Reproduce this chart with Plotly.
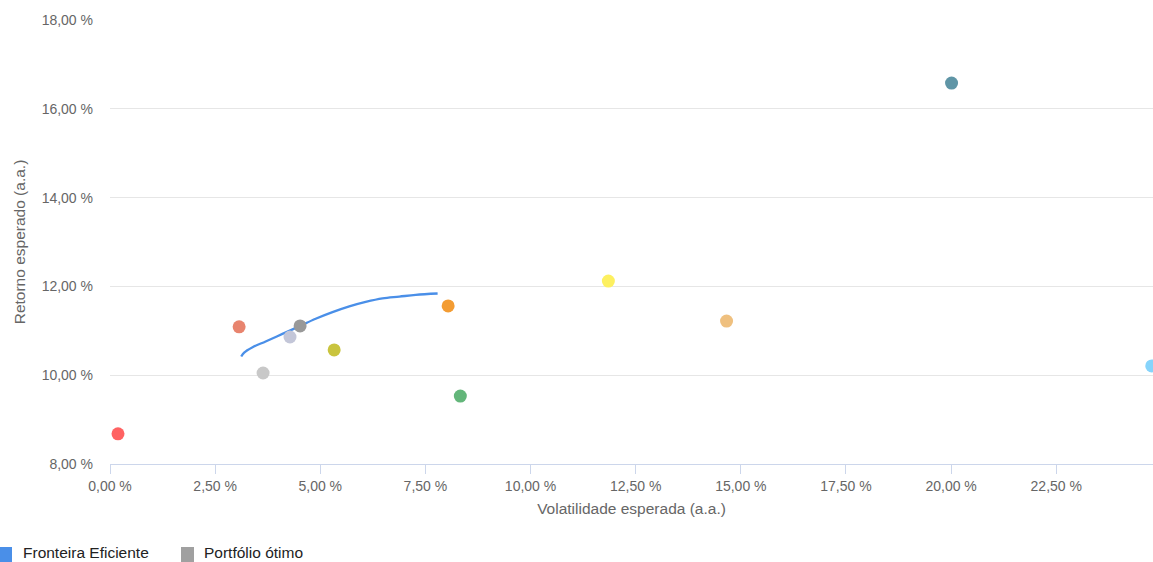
import plotly.graph_objects as go

# Asset points (volatility %, return %)
asset_vol = [0.19, 3.07, 3.64, 4.28, 5.33, 8.04, 8.33, 11.85, 14.66, 20.01, 24.77]
asset_ret = [8.68, 11.09, 10.05, 10.86, 10.57, 11.56, 9.53, 12.12, 11.22, 16.58, 10.21]
asset_colors = ["#ff6262", "#e8846e", "#c8c8c8", "#c3c6d8", "#c9c43e", "#f39c33",
                "#63b67a", "#fdf060", "#efc07f", "#5f95a6", "#86d4fb"]

# Efficient frontier
front_vol = [3.12, 3.19, 3.39, 3.70, 4.10, 4.50, 4.89, 5.29, 5.69, 6.08, 6.48, 6.88, 7.27, 7.79]
front_ret = [10.42, 10.51, 10.63, 10.76, 10.93, 11.10, 11.27, 11.42, 11.55, 11.65, 11.73, 11.77, 11.81, 11.84]

# Optimal portfolio
opt_vol = [4.52]
opt_ret = [11.11]

x_ticks = [0, 2.5, 5, 7.5, 10, 12.5, 15, 17.5, 20, 22.5]
x_ticktext = ["0,00 %", "2,50 %", "5,00 %", "7,50 %", "10,00 %", "12,50 %",
              "15,00 %", "17,50 %", "20,00 %", "22,50 %"]
y_ticks = [8, 10, 12, 14, 16, 18]
y_ticktext = ["8,00 %", "10,00 %", "12,00 %", "14,00 %", "16,00 %", "18,00 %"]

legend_names = ["Fronteira Eficiente", "Portfólio ótimo"]
legend_colors = ["#4a8fe8", "#a0a0a0"]

W, H = 1153, 562
L, R, T, B = 110, 0, 20, 98
PW, PH = W - L - R, H - T - B

fig = go.Figure()

fig.add_trace(go.Scatter(
    x=front_vol, y=front_ret, mode="lines",
    line=dict(color="#4a8fe8", width=2.3, shape="spline", smoothing=1.0),
    showlegend=False, hoverinfo="skip"))

fig.add_trace(go.Scatter(
    x=asset_vol, y=asset_ret, mode="markers",
    marker=dict(color=asset_colors, size=13, line=dict(width=0)),
    showlegend=False))

fig.add_trace(go.Scatter(
    x=opt_vol, y=opt_ret, mode="markers",
    marker=dict(color="#999999", size=13, line=dict(width=0)),
    showlegend=False))

# manual legend (square symbols + text), positioned in pixels -> paper coords
legend_px = [(-1, 22), (181, 203)]  # (square left, text left)
for (sq_left, txt_left), name, col in zip(legend_px, legend_names, legend_colors):
    fig.add_shape(type="rect", xref="paper", yref="paper",
                  x0=(sq_left - L) / PW, x1=(sq_left + 13 - L) / PW,
                  y0=(H - B - 562) / PH, y1=(H - B - 547) / PH,
                  fillcolor=col, line=dict(width=0))
    fig.add_annotation(text=name, xref="paper", yref="paper",
                       x=(txt_left - L) / PW, y=(H - B - 552) / PH,
                       xanchor="left", yanchor="middle", showarrow=False,
                       borderpad=0,
                       font=dict(size=15.5, color="#222222"))

fig.update_layout(
    width=W, height=H,
    margin=dict(l=L, r=R, t=T, b=B, autoexpand=False),
    paper_bgcolor="white", plot_bgcolor="white",
    showlegend=False,
    font=dict(family="Liberation Sans, Arial, sans-serif", color="#666666", size=14),
    xaxis=dict(
        range=[0, 24.8], tickvals=x_ticks, ticktext=x_ticktext, automargin=False,
        showgrid=False, zeroline=False, showline=True, linecolor="#ccd6eb", linewidth=1,
        ticks="outside", ticklen=9, tickcolor="#ccd6eb",
        title=dict(text="Volatilidade esperada (a.a.)", font=dict(size=15.5, color="#666666"), standoff=10),
        tickfont=dict(size=14, color="#666666")),
    yaxis=dict(
        range=[8, 18], tickvals=y_ticks, ticktext=y_ticktext, automargin=False,
        showgrid=True, gridcolor="#e6e6e6", zeroline=False, showline=False,
        ticks="", ticklabelstandoff=16,
        title=dict(text="Retorno esperado (a.a.)", font=dict(size=15.5, color="#666666"), standoff=12),
        tickfont=dict(size=14, color="#666666")),
)

fig.write_html("out.html", config={"displayModeBar": False},
               post_script="document.body.style.margin='0';document.body.style.overflow='hidden';")
